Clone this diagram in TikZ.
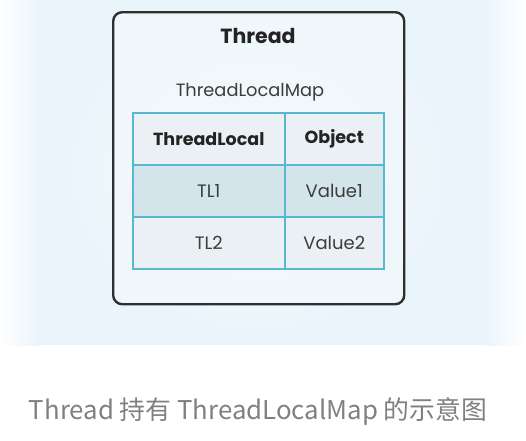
\documentclass[tikz,border=0pt]{standalone}
\usepackage{fontspec}
\setmainfont{Poppins}
\newfontfamily\cjk{Noto Sans CJK SC}
\definecolor{bgblue}{RGB}{234,245,251}
\definecolor{boxfill}{RGB}{240,248,252}
\definecolor{tblline}{RGB}{88,184,208}
\definecolor{hdrfill}{RGB}{234,240,243}
\definecolor{rowfill}{RGB}{211,228,235}
\definecolor{capgray}{RGB}{128,128,128}
\definecolor{txtdark}{RGB}{35,35,35}
\definecolor{txtgray}{RGB}{60,60,60}
\begin{document}
\begin{tikzpicture}[x=1pt,y=-1pt,
  cell/.style={draw=tblline,line width=1.6pt,minimum height=52pt,inner sep=0pt,anchor=north west},
  hdr/.style={font=\fontsize{17.5}{20}\selectfont\bfseries,text=txtdark},
  val/.style={font=\fontsize{18}{20}\selectfont,text=txtgray}]
\useasboundingbox (0,0) rectangle (526,440);
\fill[bgblue] (0,0) rectangle (526,345);
\shade[left color=white,right color=bgblue] (0,0) rectangle (40,345);
\shade[left color=bgblue,right color=white] (486,0) rectangle (526,345);
\shade[inner color=white,outer color=bgblue,opacity=0.8] (258,170) ellipse (200 and 170);
\node[draw=black!90,line width=2.4pt,rounded corners=9pt,fill=boxfill,opacity=0.9,text opacity=1,
  minimum width=291pt,minimum height=292pt,anchor=north west,inner sep=0pt] (thread) at (112,11) {};
\node[font=\fontsize{20.5}{24}\selectfont\bfseries,text=txtdark] (tlabel) at (258,36) {Thread};
\node[font=\fontsize{17.8}{20}\selectfont,text=txtgray] (maplabel) at (250,92) {ThreadLocalMap};
\node[cell,fill=hdrfill,minimum width=152pt] (h1) at (132,112) {};
\node[cell,fill=hdrfill,minimum width=99pt] (h2) at (284,112) {};
\node[cell,fill=rowfill,minimum width=152pt] (r1a) at (132,164) {};
\node[cell,fill=rowfill,minimum width=99pt] (r1b) at (284,164) {};
\node[cell,fill=hdrfill,minimum width=152pt] (r2a) at (132,216) {};
\node[cell,fill=hdrfill,minimum width=99pt] (r2b) at (284,216) {};
\node[hdr] at (h1.center) {ThreadLocal};
\node[hdr] at (h2.center) {Object};
\node[val] at (r1a.center) {TL1};
\node[val] at (r1b.center) {Value1};
\node[val] at (r2a.center) {TL2};
\node[val] at (r2b.center) {Value2};
\node[font=\cjk\fontsize{25.8}{30}\selectfont,text=capgray] (caption) at (258,411) {Thread 持有 ThreadLocalMap 的示意图};
\end{tikzpicture}
\end{document}
